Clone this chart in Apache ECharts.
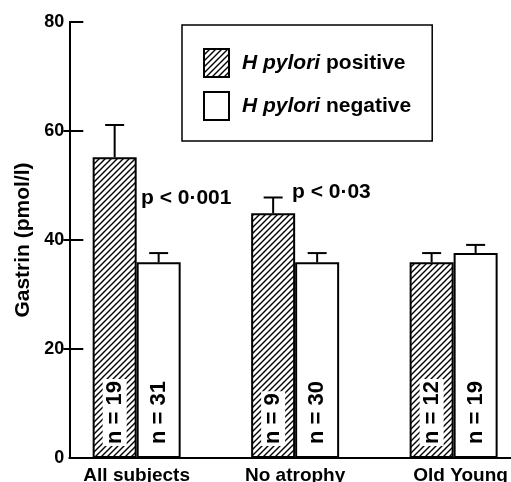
<!DOCTYPE html>
<html><head><meta charset="utf-8">
<script src="https://cdn.jsdelivr.net/npm/echarts@6/dist/echarts.min.js"></script>
<style>html,body{margin:0;padding:0;background:#fff}#c{width:511px;height:482px}</style>
</head><body><div id="c"></div>
<script>
const categories = ['All subjects', 'No atrophy', 'Old Young'];
const seriesNames = ['H pylori positive', 'H pylori negative'];
const positiveMean = [55.2, 44.9, 35.9];
const positiveUpper = [61.1, 47.8, 37.6];
const negativeMean = [35.9, 35.9, 37.6];
const negativeUpper = [37.6, 37.6, 39.1];
const positiveN = [19, 9, 12];
const negativeN = [31, 30, 19];
const yTicks = [0, 20, 40, 60, 80];
const pLabels = ['p < 0·001', 'p < 0·03'];

const F = '"Liberation Sans", Arial, sans-serif';
const W = 'bold';

function hatch() {
  const c = document.createElement('canvas');
  c.width = 6; c.height = 6;
  const g = c.getContext('2d');
  g.fillStyle = '#fff'; g.fillRect(0, 0, 6, 6);
  g.strokeStyle = '#000'; g.lineWidth = 1.4;
  g.beginPath();
  g.moveTo(0, 6); g.lineTo(6, 0);
  g.moveTo(-1, 1); g.lineTo(1, -1);
  g.moveTo(5, 7); g.lineTo(7, 5);
  g.stroke();
  return c;
}

const BW = 44;
function barSeries(name, means, ns, fill, bg) {
  return {
    type: 'bar', name: name, barWidth: BW, barGap: '0%',
    data: categories.map((c, i) => [i, means[i]]),
    itemStyle: { color: fill, borderColor: '#000', borderWidth: 2 },
    label: {
      show: true, position: 'insideBottom', distance: 12, rotate: 90,
      align: 'left', verticalAlign: 'middle',
      formatter: p => 'n = ' + ns[p.dataIndex],
      color: '#000', fontFamily: F, fontWeight: W, fontSize: 22,
      backgroundColor: bg, padding: [1, 2, 1, 2]
    },
    silent: true
  };
}
function errSeries(means, upper, side) {
  return {
    type: 'custom', silent: true, z: 3,
    data: categories.map((c, i) => [i, means[i], upper[i]]),
    renderItem: (params, api) => {
      const x = api.value(0);
      const top = api.coord([x, api.value(2)]);
      const base = api.coord([x, api.value(1)]);
      const cx = top[0] + side * BW / 2;
      return { type: 'group', children: [
        { type: 'line', shape: { x1: cx, y1: base[1], x2: cx, y2: top[1] }, style: { stroke: '#000', lineWidth: 2 } },
        { type: 'line', shape: { x1: cx - 9.5, y1: top[1], x2: cx + 9.5, y2: top[1] }, style: { stroke: '#000', lineWidth: 2 } }
      ]};
    }
  };
}

const chart = echarts.init(document.getElementById('c'));
chart.setOption({
  animation: false,
  backgroundColor: '#fff',
  grid: { left: 69.3, right: 0, top: 22, bottom: 24, containLabel: false, outerBoundsMode: 'none' },
  xAxis: {
    type: 'value', min: -0.425, max: 2.362,
    splitLine: { show: false },
    axisLine: { show: true, onZero: false, lineStyle: { color: '#000', width: 2 } },
    axisTick: { show: false },
    axisLabel: {
      customValues: [0, 1, 2], margin: 8,
      formatter: v => { const i = Math.round(v); return i === 2 ? '{s|' + categories[i] + '}' : categories[i]; },
      color: '#000', fontFamily: F, fontWeight: W, fontSize: 19,
      rich: { s: { color: '#000', fontFamily: F, fontWeight: W, fontSize: 19, padding: [0, 0, 0, 14] } }
    }
  },
  yAxis: [{
    type: 'value', min: yTicks[0], max: yTicks[yTicks.length - 1], interval: 20,
    name: 'Gastrin (pmol/l)', nameLocation: 'middle', nameGap: 34, nameRotate: 90,
    nameTextStyle: { color: '#000', fontFamily: F, fontWeight: W, fontSize: 21 },
    splitLine: { show: false },
    axisLine: { show: true, onZero: false, lineStyle: { color: '#000', width: 2 } },
    axisTick: { show: true, inside: true, length: 14, lineStyle: { color: '#000', width: 2 } },
    axisLabel: { color: '#000', fontFamily: F, fontWeight: W, fontSize: 18, margin: 5 }
  }, {
    type: 'value', position: 'left', min: 0, max: 80, offset: 0,
    splitLine: { show: false }, axisLine: { show: false, onZero: false }, axisLabel: { show: false },
    axisTick: { show: true, customValues: [20, 40, 60], length: 6, lineStyle: { color: '#000', width: 2 } }
  }],
  legend: {
    orient: 'vertical', left: 182, top: 25, padding: [23, 21, 20, 21],
    itemWidth: 25, itemHeight: 28, itemGap: 13,
    borderColor: '#000', borderWidth: 1.5, icon: 'rect', selectedMode: false,
    data: seriesNames,
    formatter: n => '{i|H pylori} ' + n.replace('H pylori ', ''),
    textStyle: { color: '#000', fontFamily: F, fontWeight: W, fontSize: 21, padding: [0, 0, 0, 8],
      rich: { i: { fontStyle: 'italic', color: '#000', fontFamily: F, fontWeight: W, fontSize: 21 } } }
  },
  graphic: [
    { type: 'text', left: 141, top: 188, style: { text: pLabels[0], font: 'bold 21px ' + F, fill: '#000' } },
    { type: 'text', left: 292, top: 182, style: { text: pLabels[1], font: 'bold 21px ' + F, fill: '#000' } }
  ],
  series: [
    barSeries(seriesNames[0], positiveMean, positiveN, { image: hatch(), repeat: 'repeat' }, '#fff'),
    barSeries(seriesNames[1], negativeMean, negativeN, '#fff', 'transparent'),
    errSeries(positiveMean, positiveUpper, -1),
    errSeries(negativeMean, negativeUpper, 1)
  ]
});
</script></body></html>
